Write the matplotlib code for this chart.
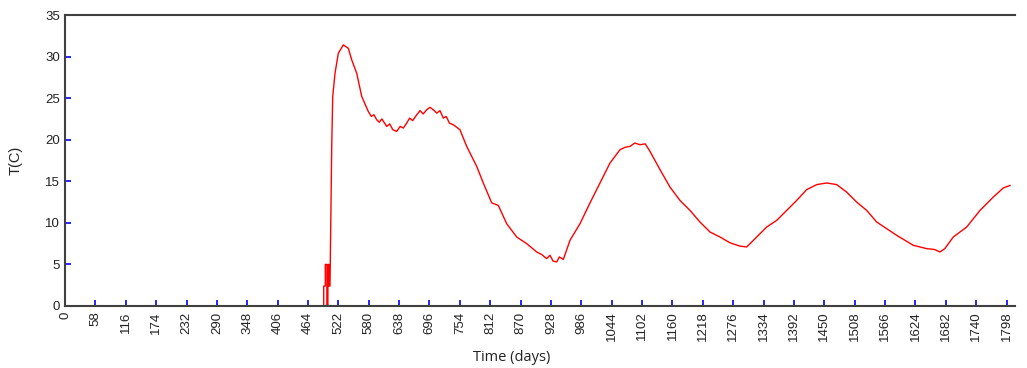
import numpy as np
import matplotlib
matplotlib.use("Agg")
import matplotlib.pyplot as plt

# Temperature trace (days, deg C)
days = [0, 490, 494, 494, 497, 497, 500, 500, 502, 502, 504, 504,
        506, 509.3, 511.2, 515.6, 521.9, 531.4, 541, 547.5, 557, 566.6,
        579.1, 585, 590, 595.2, 600, 605, 614.3, 620, 626, 633.4, 640, 646,
        652.5, 658, 664, 671.6, 678, 684, 690.7, 697, 703.3, 710, 716,
        722.4, 728, 734, 741.5, 754.2, 767, 786.1, 798.7, 814.8, 827.4,
        843.4, 862.5, 881.6, 900.7, 910, 919.8, 926, 932, 938.9, 944,
        951.5, 964.3, 983.4, 1002.5, 1021.6, 1040.7, 1059.8, 1070, 1078.9,
        1088, 1098, 1108, 1117, 1136.2, 1155.2, 1174.3, 1193.4, 1212.5,
        1231.6, 1250.7, 1269.8, 1288.9, 1301.7, 1320.8, 1339.9, 1359,
        1378.1, 1397.2, 1416.3, 1435.4, 1454.5, 1473.6, 1492.6, 1511.7,
        1530.8, 1549.9, 1588.1, 1619.8, 1645.4, 1660, 1670.8, 1680,
        1696.2, 1721.8, 1747.2, 1772.6, 1791.7, 1804.5]
temp = [0, 0, 0, 2.4, 2.4, 5.0, 5.0, 0, 0, 5.0, 5.0, 2.4,
        2.4, 19.2, 25.2, 28.0, 30.4, 31.4, 31.0, 29.6, 28.0, 25.2,
        23.4, 22.8, 23.0, 22.4, 22.1, 22.5, 21.6, 21.9, 21.2, 21.0, 21.6, 21.4,
        22.0, 22.6, 22.3, 23.0, 23.5, 23.1, 23.6, 23.9, 23.6, 23.2, 23.5,
        22.6, 22.8, 22.0, 21.8, 21.2, 19.2, 16.8, 14.8, 12.4, 12.1,
        9.9, 8.3, 7.5, 6.5, 6.2, 5.7, 6.1, 5.4, 5.3, 5.9,
        5.6, 7.9, 9.9, 12.4, 14.8, 17.2, 18.8, 19.1, 19.2,
        19.6, 19.4, 19.5, 18.6, 16.4, 14.3, 12.7, 11.5, 10.1,
        8.9, 8.3, 7.6, 7.2, 7.1, 8.3, 9.5, 10.3,
        11.5, 12.7, 14.0, 14.6, 14.8, 14.6, 13.7, 12.5,
        11.5, 10.1, 8.5, 7.3, 6.9, 6.8, 6.5, 6.9,
        8.3, 9.5, 11.5, 13.1, 14.2, 14.5]

xticks = list(range(0, 1799, 58))
yticks = [0, 5, 10, 15, 20, 25, 30, 35]

plt.rcParams["font.family"] = ["Liberation Sans", "DejaVu Sans"]

fig = plt.figure(figsize=(10.27, 3.68), dpi=100)
ax = fig.add_axes([0.0633, 0.1685, 0.925, 0.7907])

ax.plot(days, temp, color="#ff0000", linewidth=1.0)

ax.set_xlim(0, 1814)
ax.set_ylim(0, 35)
ax.set_xticks(xticks)
ax.set_xticklabels([str(v) for v in xticks], rotation=90)
ax.set_yticks(yticks)

for s in ["left", "bottom", "top"]:
    ax.spines[s].set_color("#404040")
    ax.spines[s].set_linewidth(1.5)
ax.spines["right"].set_visible(False)

ax.tick_params(axis="both", direction="in", length=4, width=1.2, color="#0000ff",
               labelsize=9.5, labelcolor="#222222")
ax.tick_params(axis="x", pad=4)

ax.set_xlabel("Time (days)", fontsize=10.5, family="Open Sans", color="#222222")
ax.xaxis.set_label_coords(0.47, -0.15)
ax.set_ylabel("T(C)", fontsize=10.5, color="#222222")
ax.yaxis.set_label_coords(-0.045, 0.5)

fig.savefig("out.png", dpi=100)
